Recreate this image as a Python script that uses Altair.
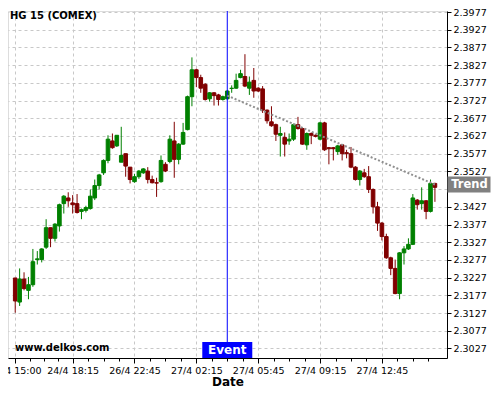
import altair as alt
import pandas as pd

# ---- data (15-min candles, index 0..95) ----
opens = [2.3226, 2.3158, 2.3223, 2.3191, 2.3207, 2.3278, 2.3278, 2.3313, 2.3368, 2.3338,
         2.3373, 2.3436, 2.3452, 2.3438, 2.3436, 2.3414, 2.3417, 2.3422, 2.3452, 2.3487,
         2.3523, 2.3558, 2.3613, 2.3599, 2.3553, 2.3577, 2.3539, 2.3498, 2.3512, 2.3523,
         2.3528, 2.3504, 2.3495, 2.3498, 2.3547, 2.3555, 2.3613, 2.3561, 2.3604, 2.3645,
         2.3738, 2.3814, 2.3792, 2.3773, 2.3732, 2.3749, 2.3743, 2.3730, 2.3732, 2.3761,
         2.3762, 2.3792, 2.3795, 2.3762, 2.3784, 2.3762, 2.3760, 2.3700, 2.3667, 2.3659,
         2.3629, 2.3623, 2.3613, 2.3618, 2.3659, 2.3648, 2.3602, 2.3634, 2.3629, 2.3618,
         2.3664, 2.3594, 2.3594, 2.3583, 2.3602, 2.3580, 2.3577, 2.3539, 2.3504, 2.3523,
         2.3512, 2.3476, 2.3427, 2.3381, 2.3343, 2.3283, 2.3253, 2.3182, 2.3297, 2.3308,
         2.3321, 2.3446, 2.3436, 2.3444, 2.3414, 2.3493]
highs = [2.3226, 2.3253, 2.3242, 2.3229, 2.3308, 2.3302, 2.3310, 2.3392, 2.3368, 2.3381,
         2.3436, 2.3460, 2.3468, 2.3460, 2.3463, 2.3422, 2.3430, 2.3476, 2.3504, 2.3520,
         2.3561, 2.3629, 2.3634, 2.3629, 2.3653, 2.3577, 2.3539, 2.3520, 2.3531, 2.3536,
         2.3539, 2.3515, 2.3509, 2.3572, 2.3553, 2.3629, 2.3667, 2.3607, 2.3664, 2.3741,
         2.3849, 2.3817, 2.3800, 2.3776, 2.3751, 2.3751, 2.3746, 2.3741, 2.3757, 2.3770,
         2.3803, 2.3814, 2.3858, 2.3795, 2.3819, 2.3765, 2.3768, 2.3702, 2.3711, 2.3662,
         2.3653, 2.3637, 2.3634, 2.3662, 2.3681, 2.3651, 2.3637, 2.3637, 2.3632, 2.3667,
         2.3667, 2.3596, 2.3596, 2.3602, 2.3604, 2.3588, 2.3596, 2.3542, 2.3531, 2.3534,
         2.3542, 2.3479, 2.3441, 2.3384, 2.3351, 2.3286, 2.3278, 2.3299, 2.3316, 2.3338,
         2.3463, 2.3449, 2.3482, 2.3446, 2.3504, 2.3495]
lows = [2.3128, 2.3147, 2.3191, 2.3166, 2.3201, 2.3264, 2.3270, 2.3308, 2.3313, 2.3329,
        2.3357, 2.3408, 2.3427, 2.3408, 2.3408, 2.3392, 2.3411, 2.3419, 2.3446, 2.3476,
        2.3517, 2.3550, 2.3591, 2.3596, 2.3553, 2.3512, 2.3493, 2.3495, 2.3506, 2.3520,
        2.3493, 2.3493, 2.3455, 2.3495, 2.3525, 2.3550, 2.3509, 2.3547, 2.3602, 2.3643,
        2.3711, 2.3765, 2.3749, 2.3727, 2.3724, 2.3713, 2.3713, 2.3727, 2.3730, 2.3749,
        2.3760, 2.3790, 2.3765, 2.3743, 2.3735, 2.3751, 2.3692, 2.3662, 2.3653, 2.3613,
        2.3569, 2.3569, 2.3602, 2.3613, 2.3645, 2.3602, 2.3588, 2.3604, 2.3623, 2.3615,
        2.3585, 2.3547, 2.3558, 2.3574, 2.3558, 2.3564, 2.3536, 2.3501, 2.3487, 2.3509,
        2.3466, 2.3408, 2.3359, 2.3332, 2.3280, 2.3234, 2.3180, 2.3166, 2.3264, 2.3305,
        2.3319, 2.3419, 2.3419, 2.3392, 2.3411, 2.3441]
closes = [2.3161, 2.3223, 2.3196, 2.3207, 2.3272, 2.3280, 2.3308, 2.3368, 2.3338, 2.3378,
          2.3433, 2.3457, 2.3444, 2.3433, 2.3411, 2.3419, 2.3425, 2.3457, 2.3487, 2.3517,
          2.3558, 2.3618, 2.3594, 2.3629, 2.3572, 2.3542, 2.3504, 2.3512, 2.3528, 2.3534,
          2.3504, 2.3495, 2.3494, 2.3558, 2.3528, 2.3618, 2.3561, 2.3604, 2.3637, 2.3738,
          2.3814, 2.3792, 2.3762, 2.3730, 2.3749, 2.3741, 2.3730, 2.3738, 2.3754, 2.3762,
          2.3784, 2.3803, 2.3768, 2.3779, 2.3754, 2.3754, 2.3700, 2.3670, 2.3656, 2.3632,
          2.3634, 2.3604, 2.3618, 2.3659, 2.3648, 2.3604, 2.3634, 2.3629, 2.3626, 2.3664,
          2.3588, 2.3591, 2.3591, 2.3599, 2.3577, 2.3577, 2.3539, 2.3504, 2.3528, 2.3512,
          2.3476, 2.3427, 2.3381, 2.3343, 2.3283, 2.3253, 2.3182, 2.3297, 2.3308, 2.3321,
          2.3452, 2.3433, 2.3444, 2.3414, 2.3493, 2.3482]

major_idx = [0, 13, 27, 41, 55, 69, 83]
major_lbl = ["24/4 15:00", "24/4 18:15", "26/4 22:45", "27/4 02:15",
             "27/4 05:45", "27/4 09:15", "27/4 12:45"]
minor_idx = [3.25, 6.5, 9.75, 16.5, 20, 23.5, 30.5, 34, 37.5, 44.5, 48, 51.5,
             58.5, 62, 65.5, 72.5, 76, 79.5, 86.5, 90, 93.5]
y_ticks = [2.3027, 2.3077, 2.3127, 2.3177, 2.3227, 2.3277, 2.3327, 2.3377, 2.3427,
           2.3477, 2.3527, 2.3577, 2.3627, 2.3677, 2.3727, 2.3777, 2.3827, 2.3877,
           2.3927, 2.3977]

event_idx = [48]
trend_idx = [48, 95]
trend_val = [2.3741, 2.3490]

title_text = "HG 15 (COMEX)"
site_text = "www.delkos.com"

# ---- tables ----
df = pd.DataFrame({"i": list(range(len(opens))), "open": opens, "high": highs,
                   "low": lows, "close": closes})
ev = pd.DataFrame({"i": event_idx, "t": ["Event"]})
tr = pd.DataFrame({"i": trend_idx, "v": trend_val})
tr_end = pd.DataFrame({"v": [trend_val[-1]], "t": ["Trend"]})
txt = pd.DataFrame({"t": [title_text]})
site = pd.DataFrame({"t": [site_text]})

W, H = 439, 347
FONT = "DejaVu Sans"
GRID = "#c8c8c8"

xs = alt.Scale(domain=[-0.5, 96.6], nice=False, zero=False)
ys = alt.Scale(domain=[2.3000, 2.3980], nice=False, zero=False)

lbl_expr = ("[" + ",".join("'%s'" % s for s in major_lbl) + "][indexof(["
            + ",".join(str(v) for v in major_idx) + "], datum.value)]")

main_x_axis = alt.Axis(values=major_idx, labelExpr=lbl_expr, grid=True,
                       gridDash=[3, 3], gridColor=GRID, gridWidth=1,
                       domainColor="black", tickColor="black", tickSize=5,
                       labelFontSize=9.5, labelColor="black", labelFont=FONT,
                       labelPadding=2, labelFlush=False, labelOverlap=False,
                       title="Date", titleFont=FONT, titleFontSize=12,
                       titleFontWeight="bold", titleColor="black", titlePadding=2,
                       orient="bottom")
minor_x_axis = alt.Axis(values=minor_idx, labels=False, grid=False, domain=False,
                        ticks=True, tickSize=3, tickColor="black", title=None,
                        orient="bottom")
y_axis = alt.Axis(orient="right", values=y_ticks,
                  labelExpr="abs(datum.value - 2.3477) < 0.00005 ? '' : format(datum.value, '.4f')",
                  grid=True, gridDash=[3, 3], gridColor=GRID, gridWidth=1,
                  domainColor="black", tickColor="black", tickSize=4,
                  labelFontSize=9.5, labelColor="black", labelFont=FONT,
                  labelPadding=2, title=None)

col = (alt.when(alt.datum.open > alt.datum.close)
       .then(alt.value("#800000")).otherwise(alt.value("#008000")))

base = alt.Chart(df)
wicks = base.mark_rule(strokeWidth=1).encode(
    x=alt.X("i:Q", scale=xs, axis=minor_x_axis),
    y=alt.Y("low:Q", scale=ys, axis=y_axis),
    y2="high:Q",
    color=col,
)
bodies = base.mark_bar(size=3.6, strokeWidth=1).encode(
    x=alt.X("i:Q", scale=xs, axis=main_x_axis),
    y=alt.Y("open:Q", scale=ys, axis=y_axis),
    y2="close:Q",
    color=col,
    stroke=col,
)
event_rule = alt.Chart(ev).mark_rule(color="#0000ff", strokeWidth=1).encode(
    x=alt.X("i:Q", scale=xs, axis=None)
)
trend_line = alt.Chart(tr).mark_line(color="#8f8f8f", strokeDash=[2, 2],
                                     strokeWidth=2).encode(
    x=alt.X("i:Q", scale=xs, axis=None),
    y=alt.Y("v:Q", scale=ys, axis=y_axis),
)
event_box = alt.Chart(ev).mark_point(shape="M-1,-0.32H1V0.32H-1Z", filled=True,
                                     size=2500, color="#0000ff", opacity=1,
                                     strokeWidth=0).encode(
    x=alt.X("i:Q", scale=xs, axis=None), y=alt.value(H - 8)
)
event_txt = alt.Chart(ev).mark_text(color="white", font=FONT, fontSize=12,
                                    fontWeight="bold", baseline="middle").encode(
    x=alt.X("i:Q", scale=xs, axis=None), y=alt.value(H - 8), text="t:N"
)
trend_box = alt.Chart(tr_end).mark_point(shape="M-1,-0.372H1V0.372H-1Z", filled=True,
                                         size=1849, color="#808080", opacity=1,
                                         strokeWidth=0).encode(
    x=alt.value(W + 22), y=alt.Y("v:Q", scale=ys, axis=y_axis)
)
trend_txt = alt.Chart(tr_end).mark_text(color="white", font=FONT, fontSize=11.5,
                                        fontWeight="bold", baseline="middle").encode(
    x=alt.value(W + 22.5), y=alt.Y("v:Q", scale=ys, axis=y_axis), text="t:N"
)
title_mark = alt.Chart(txt).mark_text(align="left", baseline="middle", font=FONT,
                                      fontSize=10, fontWeight="bold",
                                      color="black").encode(
    x=alt.value(2), y=alt.value(5), text="t:N"
)
site_mark = alt.Chart(site).mark_text(align="left", baseline="middle", font=FONT,
                                      fontSize=10, fontWeight="bold",
                                      color="black").encode(
    x=alt.value(7), y=alt.value(H - 10), text="t:N"
)

chart = alt.layer(
    wicks, bodies, event_rule, trend_line, event_box, event_txt,
    trend_box, trend_txt, title_mark, site_mark
).resolve_axis(x="independent").properties(
    width=W, height=H,
    padding={"left": 0, "top": 3, "right": 45, "bottom": 30},
    autosize=alt.AutoSizeParams(type="none"),
).configure_view(stroke=None).configure(font=FONT, background="white")

chart.save("out.html", embed_options={"renderer": "svg", "actions": False})
